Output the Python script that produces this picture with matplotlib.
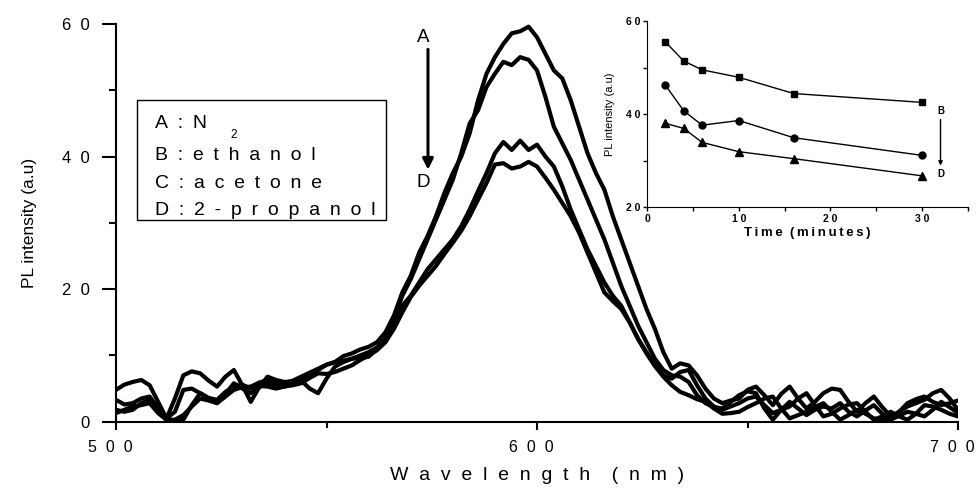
import numpy as np
import matplotlib
matplotlib.use('Agg')
from matplotlib import pyplot as plt
from matplotlib.patches import Rectangle
from matplotlib.ticker import FixedLocator, FixedFormatter, MultipleLocator
from matplotlib.transforms import ScaledTranslation

plt.rcParams['font.family'] = ['Liberation Sans', 'DejaVu Sans']

# PL spectra, every 2 nm from 500 to 700
wavelength = np.arange(500, 701, 2)

spec_a = [4.8, 5.6, 6.0, 6.3, 5.5, 3.0, 0.5, 3.5, 7.0, 7.6,
          7.3, 6.2, 5.3, 6.8, 7.8, 5.5, 3.0, 5.2, 6.8, 6.3,
          6.0, 6.1, 6.5, 7.0, 7.8, 8.6, 9.0, 9.9, 10.3, 10.9,
          11.3, 12.0, 13.5, 16.0, 19.5, 22.0, 25.5, 28.0, 31.0, 34.5,
          37.5, 40.0, 43.5, 48.5, 52.5, 55.0, 57.0, 58.6, 58.9, 59.6,
          58.0, 55.5, 53.0, 51.8, 48.5, 44.5, 40.5, 37.5, 35.0, 31.0,
          27.5, 24.0, 20.5, 17.0, 14.0, 10.5, 8.0, 8.8, 8.5, 7.0,
          5.0, 3.5, 2.8, 3.2, 3.5, 4.8, 5.3, 4.0, 2.5, 4.2,
          5.3, 3.5, 2.0, 3.0, 4.3, 5.0, 4.8, 3.0, 1.5, 2.8,
          3.8, 2.2, 0.8, 1.5, 2.3, 2.8, 3.3, 4.3, 4.8, 3.5,
          1.8]
spec_b = [3.3, 2.6, 2.8, 3.5, 3.8, 2.0, 0.5, 1.5, 4.8, 5.0,
          4.3, 3.6, 3.3, 4.5, 5.3, 5.6, 5.0, 5.4, 5.3, 5.0,
          5.3, 5.9, 6.2, 5.0, 4.3, 6.5, 8.3, 9.0, 9.5, 9.6,
          9.8, 11.0, 12.5, 15.5, 19.0, 21.5, 24.5, 27.5, 30.5, 33.5,
          36.5, 40.5, 45.0, 47.0, 50.5, 52.5, 54.3, 53.8, 55.0, 54.6,
          53.0, 49.0, 44.5, 42.0, 39.5, 36.5, 33.5, 30.5, 27.5, 24.0,
          20.5, 17.5, 14.5, 12.0, 9.5, 7.8, 7.0, 6.8, 6.0, 4.0,
          2.8, 2.2, 2.0, 3.0, 4.0, 4.6, 4.3, 2.0, 0.3, 1.8,
          3.0, 2.0, 1.0, 1.8, 2.3, 2.0, 2.8, 1.5, 0.8, 1.7,
          2.5, 1.2, 0.3, 1.5, 2.8, 3.4, 3.8, 3.0, 2.5, 2.8,
          3.2]
spec_c = [1.8, 1.5, 1.8, 2.8, 3.3, 1.5, 0.3, 0.3, 1.0, 2.3,
          3.5, 3.2, 2.8, 4.2, 5.8, 5.0, 4.3, 5.2, 5.8, 5.6,
          5.8, 6.2, 6.8, 7.4, 8.0, 8.6, 9.0, 9.2, 9.5, 10.0,
          10.5, 11.2, 12.5, 14.8, 17.5, 19.0, 21.0, 23.0, 24.5, 26.0,
          27.5, 29.5, 32.0, 34.8, 37.5, 40.5, 42.2, 41.0, 42.4, 41.0,
          41.8, 40.0, 38.5, 35.5, 32.0, 29.0, 26.0, 23.5, 21.0, 19.0,
          17.5, 15.0, 12.5, 10.5, 8.5, 7.0, 6.5, 7.5, 7.8, 5.5,
          3.5, 2.3, 1.8, 2.3, 2.8, 3.5, 3.8, 2.5, 1.3, 1.8,
          2.3, 3.5, 4.3, 2.5, 0.8, 1.2, 2.0, 2.6, 2.8, 1.5,
          0.3, 0.8, 1.5, 0.8, 0.3, 1.2, 2.5, 2.3, 1.8, 1.2,
          0.8]
spec_d = [1.3, 1.8, 2.3, 2.5, 2.8, 1.3, 0.3, 0.2, 0.3, 2.5,
          4.3, 3.5, 2.8, 3.8, 4.8, 5.2, 5.3, 5.9, 6.3, 5.8,
          5.3, 5.5, 5.8, 6.6, 7.3, 7.2, 7.5, 8.0, 8.5, 9.3,
          10.0, 10.8, 12.0, 14.0, 16.5, 18.8, 20.5, 22.0, 23.5, 25.3,
          27.0, 28.8, 31.0, 33.5, 36.0, 38.8, 39.0, 38.2, 38.5, 39.2,
          38.5, 36.8, 35.0, 33.0, 31.0, 28.5, 25.5, 22.5, 19.5, 18.2,
          17.0, 15.0, 12.5, 10.3, 8.4, 6.8, 5.5, 4.5, 4.0, 3.4,
          3.0, 2.0, 1.2, 1.3, 1.5, 2.2, 2.8, 3.5, 3.8, 2.0,
          0.5, 1.0, 1.5, 2.2, 2.8, 1.5, 0.3, 1.0, 1.8, 1.2,
          0.5, 0.3, 0.3, 0.9, 1.5, 1.2, 0.8, 1.8, 3.0, 2.2,
          1.3]

legend_lines = ['A:N', 'B:ethanol', 'C:acetone', 'D:2-propanol']

# inset: peak PL vs time
time_min = [2, 4, 6, 10, 16, 30]
pl_b = [55.5, 51.4, 49.5, 47.9, 44.4, 42.5]
pl_c = [46.2, 40.7, 37.6, 38.6, 34.9, 31.1]
pl_d = [38.0, 36.9, 33.9, 31.9, 30.4, 26.7]

main_xticks = [500, 600, 700]
main_yticks = [0, 20, 40, 60]
inset_xticks = [0, 10, 20, 30]
inset_yticks = [20, 40, 60]


def spread(text, gap='\u2002'):
    return gap.join(text)


fig = plt.figure(figsize=(9.78, 4.91), dpi=100)
ax = fig.add_axes([0.1186, 0.1411, 0.861, 0.81])

for spec in (spec_a, spec_b, spec_c, spec_d):
    ax.plot(wavelength, spec, color='black', lw=3.0, solid_joinstyle='round')

ax.set_xlim(500, 700)
ax.set_ylim(0, 60)
for side in ('top', 'right'):
    ax.spines[side].set_visible(False)
for side in ('left', 'bottom'):
    ax.spines[side].set_linewidth(1.5)

ax.xaxis.set_major_locator(FixedLocator(main_xticks))
ax.xaxis.set_major_formatter(FixedFormatter([spread(str(v), '  ') for v in main_xticks]))
ax.xaxis.set_minor_locator(MultipleLocator(50))
ax.yaxis.set_major_locator(FixedLocator(main_yticks))
ax.yaxis.set_major_formatter(FixedFormatter([spread(str(v), '  ') for v in main_yticks]))
ax.yaxis.set_minor_locator(MultipleLocator(10))
ax.tick_params(axis='x', which='major', direction='out', length=6, width=1.5, labelsize=11.5, pad=7)
ax.tick_params(axis='x', which='minor', direction='out', length=4, width=1.5)
ax.tick_params(axis='y', which='major', direction='out', length=10, width=1.5, labelsize=12, pad=9)
ax.tick_params(axis='y', which='minor', direction='out', length=5, width=1.5)
# the wavelength labels sit a little left of their ticks
shift = ScaledTranslation(-4 / 72, 0, fig.dpi_scale_trans)
for lbl in ax.get_xticklabels():
    lbl.set_transform(lbl.get_transform() + shift)

ax.set_xlabel(spread('Wavelength', '  ') + '    ' + spread('(nm)', '  '), fontsize=14, labelpad=9)
ax.set_ylabel('PL intensity (a.u)', fontsize=12.5, labelpad=18)

# legend box drawn by hand
ax.add_patch(Rectangle((0.0249, 0.5072), 0.2958, 0.3017, transform=ax.transAxes,
                       fill=False, edgecolor='black', lw=1.0))
text_y = [0.7508, 0.6703, 0.5999, 0.5320]
for line, ty in zip(legend_lines, text_y):
    ax.text(0.0463, ty, spread(line), transform=ax.transAxes, fontsize=14, va='center', ha='left')
ax.text(0.136, 0.722, '2', transform=ax.transAxes, fontsize=8.5, va='center', ha='left')

# A -> D arrow
ax.annotate('', xy=(574.1, 37.6), xytext=(574.1, 56.6),
            arrowprops=dict(arrowstyle='-|>', lw=2.2, color='black', mutation_scale=16))
ax.text(573, 57.9, 'A', fontsize=13.5, ha='center', va='center')
ax.text(573, 36.1, 'D', fontsize=13.5, ha='center', va='center')

# inset
ins = fig.add_axes([0.6616, 0.5784, 0.3282, 0.3788])
ins.patch.set_alpha(0)
ins.plot(time_min, pl_b, color='black', lw=1.0, marker='s', ms=4.5)
ins.plot(time_min, pl_c, color='black', lw=1.0, marker='o', ms=5)
ins.plot(time_min, pl_d, color='black', lw=1.0, marker='^', ms=5.5)
ins.set_xlim(0, 35)
ins.set_ylim(20, 60)
for side in ('top', 'right'):
    ins.spines[side].set_visible(False)
ins.xaxis.set_major_locator(FixedLocator(inset_xticks))
ins.xaxis.set_major_formatter(FixedFormatter([spread(str(v), ' ') for v in inset_xticks]))
ins.xaxis.set_minor_locator(MultipleLocator(5))
ins.yaxis.set_major_locator(FixedLocator(inset_yticks))
ins.yaxis.set_major_formatter(FixedFormatter([spread(str(v), ' ') for v in inset_yticks]))
ins.yaxis.set_minor_locator(MultipleLocator(10))
ins.tick_params(which='both', direction='out', length=3, width=1.0, labelsize=7.5, pad=2)
for lbl in ins.get_xticklabels() + ins.get_yticklabels():
    lbl.set_fontweight('bold')
ins.set_xlabel(spread('Time', '\u2009') + '  ' + spread('(minutes)', '\u2009'),
               fontsize=9.5, fontweight='bold', labelpad=2)
ins.set_ylabel('PL intensity (a.u)', fontsize=8, labelpad=8)
ins.annotate('', xy=(32, 28.3), xytext=(32, 39.4),
             arrowprops=dict(arrowstyle='-|>', lw=1.0, color='black', mutation_scale=6))
ins.text(32, 40.6, 'B', fontsize=7, fontweight='bold', ha='center', va='center')
ins.text(32, 27.2, 'D', fontsize=7, fontweight='bold', ha='center', va='center')

fig.savefig('out.png', dpi=100)
